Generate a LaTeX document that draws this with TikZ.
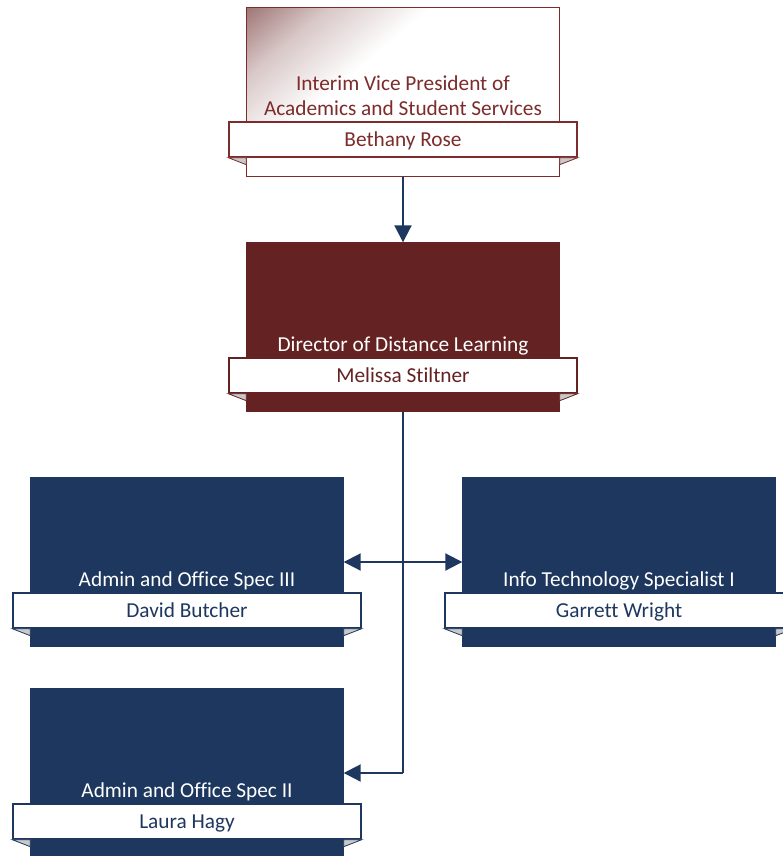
\documentclass[tikz,border=0pt]{standalone}
\usepackage{fontspec}
\setmainfont[Ligatures=NoCommon]{Carlito}
\usetikzlibrary{arrows.meta}
\definecolor{dred}{HTML}{652222}
\definecolor{bred}{HTML}{7D2B2B}
\definecolor{navy}{HTML}{1E375E}
\definecolor{foldgray}{HTML}{C9C9C9}
\pgfdeclarehorizontalshading{cornerfade}{100bp}{color(0bp)=(dred); color(12bp)=(dred!70); color(26bp)=(dred!25); color(40bp)=(white); color(100bp)=(white)}
\begin{document}
\begin{tikzpicture}[x=1pt,y=-1pt,
  box/.style={draw, minimum width=312pt, minimum height=168pt, inner sep=0pt, line width=1.4pt},
  redbox/.style={box, draw=bred},
  darkbox/.style={box, draw=dred, fill=dred},
  bluebox/.style={box, draw=navy, fill=navy},
  band/.style={draw, fill=white, minimum width=348pt, minimum height=35pt, inner sep=0pt, line width=1.4pt},
  ttl/.style={font=\fontsize{21.3}{25}\selectfont, align=center, anchor=south, inner sep=0pt, text depth=0pt},
  nm/.style={font=\fontsize{21.3}{25}\selectfont, anchor=base, inner sep=0pt},
  foldst/.style={fill=foldgray, line width=0.8pt},
  conn/.style={draw=navy, line width=2pt, -{Triangle[length=17pt,width=17pt]}},
  trunk/.style={draw=navy, line width=2pt},
]
\useasboundingbox (0,0) rectangle (783,856);
\clip (0,0) rectangle (783,856);

% ---- top box
\node[redbox] (vp) at (403,92) {};
\begin{scope}
  \clip (247,8) rectangle (559,176);
  \shade[shading=cornerfade, shading angle=-50] (247,8) rectangle (559,176);
\end{scope}
\draw[draw=bred, line width=1.4pt] (vp.north west) rectangle (vp.south east);
\node[band, draw=bred] (vpband) at (403,139.5) {};
\fill[foldst, draw=bred] (vpband.south west) -- (vp.west |- vpband.south) -- ++(0,7) -- cycle;
\fill[foldst, draw=bred] (vpband.south east) -- (vp.east |- vpband.south) -- ++(0,7) -- cycle;
\node[ttl, text=bred] (vptitle) at (403,115.5) {Interim Vice President of\\Academics and Student Services};
\node[nm, text=bred] (vpname) at ([yshift=-7pt]vpband.center) {Bethany Rose};

% ---- director
\node[darkbox] (dir) at (403,327) {};
\node[band, draw=dred] (dirband) at (403,375.5) {};
\fill[foldst, draw=dred] (dirband.south west) -- (dir.west |- dirband.south) -- ++(0,7) -- cycle;
\fill[foldst, draw=dred] (dirband.south east) -- (dir.east |- dirband.south) -- ++(0,7) -- cycle;
\node[ttl, text=white] (dirtitle) at (403,352) {Director of Distance Learning};
\node[nm, text=dred] (dirname) at ([yshift=-7pt]dirband.center) {Melissa Stiltner};

% ---- admin spec III
\node[bluebox] (a3) at (187,562) {};
\node[band, draw=navy] (a3band) at (187,610.5) {};
\fill[foldst, draw=navy] (a3band.south west) -- (a3.west |- a3band.south) -- ++(0,7) -- cycle;
\fill[foldst, draw=navy] (a3band.south east) -- (a3.east |- a3band.south) -- ++(0,7) -- cycle;
\node[ttl, text=white] (a3title) at (187,587) {Admin and Office Spec III};
\node[nm, text=navy] (a3name) at ([yshift=-7pt]a3band.center) {David Butcher};

% ---- info tech
\node[bluebox] (it) at (619,562) {};
\node[band, draw=navy] (itband) at (619,610.5) {};
\fill[foldst, draw=navy] (itband.south west) -- (it.west |- itband.south) -- ++(0,7) -- cycle;
\fill[foldst, draw=navy] (itband.south east) -- (it.east |- itband.south) -- ++(0,7) -- cycle;
\node[ttl, text=white] (ittitle) at (619,587) {Info Technology Specialist I};
\node[nm, text=navy] (itname) at ([yshift=-7pt]itband.center) {Garrett Wright};

% ---- admin spec II
\node[bluebox] (a2) at (187,773) {};
\node[band, draw=navy] (a2band) at (187,821.5) {};
\fill[foldst, draw=navy] (a2band.south west) -- (a2.west |- a2band.south) -- ++(0,7) -- cycle;
\fill[foldst, draw=navy] (a2band.south east) -- (a2.east |- a2band.south) -- ++(0,7) -- cycle;
\node[ttl, text=white] (a2title) at (187,798) {Admin and Office Spec II};
\node[nm, text=navy] (a2name) at ([yshift=-7pt]a2band.center) {Laura Hagy};

% ---- connectors
\draw[conn] (vp.south) -- (dir.north);
\coordinate (j2) at (dir.south |- a2.east);
\draw[trunk] (dir.south) -- (j2);
\draw[conn] (j2) -- (a2.east);
\draw[conn, {Triangle[length=17pt,width=17pt]}-{Triangle[length=17pt,width=17pt]}] (a3.east) -- (it.west);
\end{tikzpicture}
\end{document}
